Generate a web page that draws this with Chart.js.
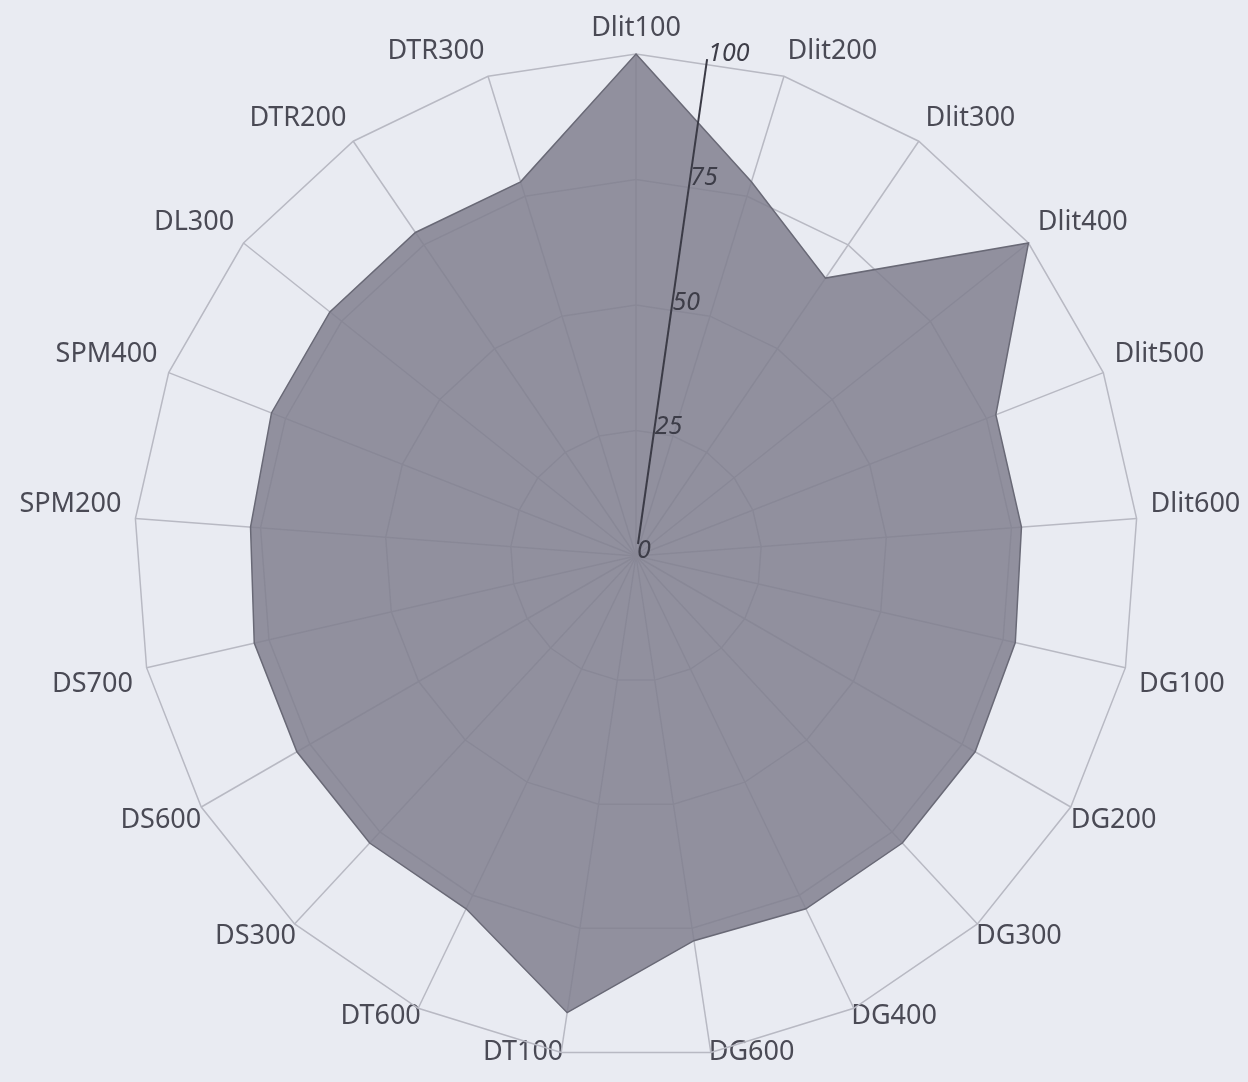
<!DOCTYPE html>
<html>
<head>
<meta charset="utf-8">
<script src="https://cdn.jsdelivr.net/npm/chart.js@4"></script>
<style>
  html, body { margin: 0; padding: 0; background: #e9ebf2; overflow: hidden; }
  #wrap { width: 1248px; height: 1082px; position: relative; }
</style>
</head>
<body>
<div id="wrap"><canvas id="c"></canvas></div>
<script>
const categories = ['Dlit100','Dlit200','Dlit300','Dlit400','Dlit500','Dlit600','DG100','DG200','DG300','DG400','DG600','DT100','DT600','DS300','DS600','DS700','SPM200','SPM400','DL300','DTR200','DTR300'];
const values = [100, 78, 67, 100, 77, 77, 77.5, 78, 78, 78, 77.5, 92, 78, 78, 78, 78, 77, 78, 78, 78, 78];
const tickValues = [0, 25, 50, 75, 100];
const tickLabels = ['0', '25', '50', '75', '100'];

// label offset from the outer ring, by how far the spoke is from the bottom
function labelPad(i, n) {
  const angle = i * 360 / n;
  const d = Math.abs(180 - angle);
  if (d < 15) return -14;
  if (d < 30) return -6;
  if (d < 50) return -2;
  if (d < 70) return 0;
  if (d < 100) return 14;
  return 12;
}

const tiltedAxis = {
  id: 'tiltedAxis',
  afterDatasetsDraw(chart) {
    const s = chart.scales.r;
    const ctx = chart.ctx;
    const n = chart.data.labels.length;
    const ang = s.getIndexAngle(0) - Math.PI / 2 + Math.PI / n * 0.95;
    const cx = s.xCenter, cy = s.yCenter;
    const rMax = s.getDistanceFromCenterForValue(tickValues[tickValues.length - 1]);
    ctx.save();
    ctx.strokeStyle = '#3b3b46';
    ctx.lineWidth = 2;
    ctx.beginPath();
    ctx.moveTo(cx + 2, cy - 12);
    ctx.lineTo(cx + Math.cos(ang) * rMax, cy + Math.sin(ang) * rMax);
    ctx.stroke();
    ctx.fillStyle = '#3d3d48';
    ctx.font = 'italic 25px "Noto Sans"';
    ctx.textAlign = 'left';
    ctx.textBaseline = 'alphabetic';
    tickValues.forEach((v, i) => {
      const r = s.getDistanceFromCenterForValue(v);
      const x = cx + Math.cos(ang) * r;
      const y = cy + Math.sin(ang) * r;
      ctx.fillText(tickLabels[i], x + 1, y + 2);
    });
    ctx.restore();
  }
};

new Chart(document.getElementById('c'), {
  type: 'radar',
  data: {
    labels: categories,
    datasets: [{
      data: values,
      backgroundColor: 'rgba(128,126,142,0.84)',
      borderColor: 'rgba(105,105,118,1)',
      borderWidth: 1.5,
      pointRadius: 0,
      pointHoverRadius: 0,
      fill: true
    }]
  },
  options: {
    responsive: true,
    maintainAspectRatio: false,
    animation: false,
    layout: { padding: { top: 0, bottom: 0, left: 12, right: 0 } },
    plugins: { legend: { display: false }, tooltip: { enabled: false } },
    scales: {
      r: {
        min: 0,
        max: 100,
        ticks: { display: false, stepSize: 25 },
        grid: { color: '#b8b9c3', lineWidth: 1.5 },
        angleLines: { color: '#b8b9c3', lineWidth: 1.5 },
        pointLabels: {
          color: '#4a4a55',
          padding: (c) => labelPad(c.index, categories.length),
          font: { family: '"Noto Sans"', size: 27, lineHeight: 1.0 }
        }
      }
    }
  },
  plugins: [tiltedAxis]
});
</script>
</body>
</html>
